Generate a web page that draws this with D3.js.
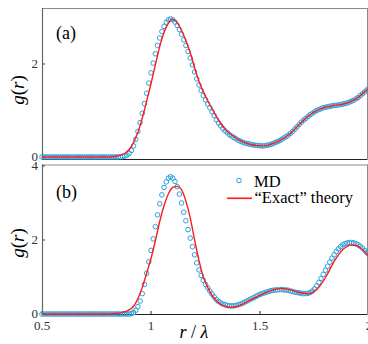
<!DOCTYPE html>
<html>
<head>
<meta charset="utf-8">
<script src="https://cdn.jsdelivr.net/npm/d3@7"></script>
<style>
  body { margin: 0; background: #fff; }
  svg { display: block; }
</style>
</head>
<body>
<svg id="chart" width="368" height="344" font-family="'Liberation Serif', 'Times New Roman', 'DejaVu Serif', serif"></svg>
<script>
// sample grids (r / lambda)
const rMD = d3.range(151).map(i => +(0.5 + i * 0.01).toFixed(2))
const rTheory = d3.range(76).map(i => +(0.5 + i * 0.02).toFixed(2))

const xTicks = [0.5, 1, 1.5, 2]
const xTickLabels = ['0.5', '1', '1.5', '2']
const yTicksA = [0, 2]
const yTicksB = [0, 2, 4]

// panel (a): MD, step 0.01
const mdA = [
  0, 0, 0, 0, 0, 0, 0, 0, 0, 0,
  0, 0, 0, 0, 0, 0, 0, 0, 0, 0,
  0, 0, 0, 0, 0, 0, 0, 0, 0, 0,
  0, 0, 0, 0, 0, 0,
  0.005, 0.01, 0.02, 0.04, 0.08, 0.14, 0.24, 0.38, 0.55, 0.74,
  0.94, 1.15, 1.37, 1.59, 1.81, 2.02, 2.22, 2.40, 2.56, 2.70,
  2.81, 2.90, 2.95, 2.97, 2.95, 2.90, 2.83, 2.74, 2.64, 2.52,
  2.40, 2.27, 2.13, 1.98, 1.83, 1.68, 1.55, 1.43, 1.32, 1.23,
  1.14, 1.06, 0.97, 0.89, 0.80, 0.73, 0.67, 0.61, 0.56, 0.52,
  0.48, 0.45, 0.42, 0.39, 0.36, 0.34, 0.32, 0.30, 0.29, 0.28,
  0.27, 0.26, 0.25, 0.25, 0.24, 0.24, 0.24, 0.25, 0.26, 0.27,
  0.29, 0.31, 0.33, 0.35, 0.38, 0.41, 0.44, 0.47, 0.51, 0.55,
  0.60, 0.65, 0.70, 0.75, 0.79, 0.83, 0.87, 0.91, 0.94, 0.97,
  1.00, 1.02, 1.04, 1.06, 1.07, 1.08, 1.09, 1.10, 1.11, 1.11,
  1.12, 1.13, 1.14, 1.15, 1.16, 1.18, 1.20, 1.22, 1.25, 1.28,
  1.32, 1.36, 1.40, 1.44, 1.48
]

// panel (a): "exact" theory, step 0.02
const theoryA = [
  0, 0, 0, 0, 0, 0, 0, 0, 0, 0, 0, 0, 0, 0, 0, 0,
  0.005, 0.015, 0.04, 0.08, 0.16, 0.31, 0.53, 0.84, 1.20, 1.58,
  1.98, 2.38, 2.68, 2.88, 2.96, 2.89, 2.72, 2.50, 2.24, 1.92,
  1.63, 1.40, 1.21, 1.04, 0.87, 0.72, 0.60, 0.51, 0.44, 0.38,
  0.33, 0.29, 0.27, 0.25, 0.24, 0.24, 0.26, 0.29, 0.33, 0.38,
  0.44, 0.51, 0.60, 0.70, 0.79, 0.87, 0.94, 1.00, 1.04, 1.07,
  1.09, 1.11, 1.12, 1.14, 1.16, 1.20, 1.25, 1.32, 1.40, 1.48
]

// panel (b): MD, step 0.01
const mdB = [
  0, 0, 0, 0, 0, 0, 0, 0, 0, 0,
  0, 0, 0, 0, 0, 0, 0, 0, 0, 0,
  0, 0, 0, 0, 0, 0, 0, 0, 0, 0,
  0, 0, 0, 0, 0, 0, 0, 0, 0, 0,
  0,
  0.01, 0.04, 0.10, 0.20, 0.35, 0.55, 0.80, 1.10, 1.41, 1.72,
  2.03, 2.36, 2.68, 2.98, 3.22, 3.42, 3.57, 3.67, 3.71, 3.67,
  3.58, 3.44, 3.24, 3.00, 2.75, 2.52, 2.28, 2.05, 1.82, 1.60,
  1.38, 1.19, 1.04, 0.91, 0.80, 0.71, 0.62, 0.54, 0.46, 0.39,
  0.34, 0.30, 0.27, 0.25, 0.23, 0.22, 0.22, 0.22, 0.23, 0.25,
  0.27, 0.29, 0.32, 0.35, 0.38, 0.41, 0.44, 0.47, 0.50, 0.53,
  0.55, 0.57, 0.59, 0.61, 0.63, 0.64, 0.65, 0.65, 0.66, 0.66,
  0.65, 0.65, 0.64, 0.62, 0.61, 0.59, 0.58, 0.57, 0.56, 0.55,
  0.55, 0.56, 0.58, 0.62, 0.68, 0.76, 0.85, 0.96, 1.07, 1.18,
  1.29, 1.40, 1.51, 1.60, 1.69, 1.76, 1.82, 1.87, 1.90, 1.92,
  1.93, 1.93, 1.92, 1.90, 1.87, 1.83, 1.78, 1.72, 1.66, 1.60
]

// panel (b): "exact" theory, step 0.02
const theoryB = [
  0, 0, 0, 0, 0, 0, 0, 0, 0, 0, 0, 0, 0, 0, 0, 0,
  0.005, 0.015, 0.03, 0.06, 0.11, 0.21, 0.42, 0.72, 1.10, 1.50,
  1.98, 2.50, 2.93, 3.25, 3.42, 3.45, 3.36, 3.05, 2.60, 2.00,
  1.45, 1.00, 0.72, 0.50, 0.36, 0.26, 0.21, 0.18, 0.19, 0.22,
  0.27, 0.33, 0.39, 0.45, 0.51, 0.56, 0.61, 0.65, 0.68, 0.69,
  0.68, 0.65, 0.61, 0.58, 0.56, 0.55, 0.58, 0.66, 0.80, 0.98,
  1.20, 1.42, 1.60, 1.74, 1.83, 1.86, 1.85, 1.79, 1.68, 1.55
]

const mdColor = '#2ba0dc'
const theoryColor = '#ff1a1a'

const svg = d3.select('#chart')
const left = 42
const right = 367.5

const x = d3.scaleLinear().domain([0.5, 2]).range([left, 369])

const drawPanel = (opt) => {
  const y = d3.scaleLinear().domain(opt.yDomain).range([opt.bottom, opt.top])
  const g = svg.append('g')

  // frame
  g.append('line').attr('x1', left).attr('x2', right).attr('y1', opt.top + 0.5).attr('y2', opt.top + 0.5)
    .attr('stroke', '#8a8a8a').attr('stroke-width', 1)
  g.append('line').attr('x1', right).attr('x2', right).attr('y1', opt.top).attr('y2', opt.bottom)
    .attr('stroke', '#8a8a8a').attr('stroke-width', 1)
  g.append('line').attr('x1', left + 0.5).attr('x2', left + 0.5).attr('y1', opt.top).attr('y2', opt.bottom)
    .attr('stroke', '#666').attr('stroke-width', 1.2)
  g.append('line').attr('x1', left).attr('x2', right).attr('y1', opt.bottom + 0.5).attr('y2', opt.bottom + 0.5)
    .attr('stroke', '#222').attr('stroke-width', 1.2)

  // y ticks (inside) and labels
  opt.yTicks.forEach(t => {
    g.append('line').attr('x1', left).attr('x2', left + 3).attr('y1', y(t)).attr('y2', y(t))
      .attr('stroke', '#444')
    g.append('text').attr('x', 38).attr('y', y(t) + 4).attr('text-anchor', 'end')
      .attr('font-size', 13).attr('fill', '#333').text(t)
  })

  if (opt.xAxis) {
    xTicks.forEach((t, i) => {
      g.append('line').attr('x1', x(t)).attr('x2', x(t)).attr('y1', opt.bottom).attr('y2', opt.bottom - 3)
        .attr('stroke', '#222')
      g.append('text').attr('x', x(t)).attr('y', opt.bottom + 16).attr('text-anchor', 'middle')
        .attr('font-size', 13).attr('fill', '#333').text(xTickLabels[i])
    })
  }

  // MD circles
  g.append('g').selectAll('circle')
    .data(opt.md)
    .enter()
    .append('circle')
    .attr('cx', (d, i) => x(rMD[i]))
    .attr('cy', d => y(d))
    .attr('r', 2.3)
    .attr('fill', 'none')
    .attr('stroke', mdColor)
    .attr('stroke-width', 1)

  // theory line
  const line = d3.line()
    .x((d, i) => x(rTheory[i]))
    .y(d => y(d))
    .curve(d3.curveMonotoneX)
  g.append('path').datum(opt.theory)
    .attr('d', line)
    .attr('fill', 'none')
    .attr('stroke', theoryColor)
    .attr('stroke-width', 1.4)

  // panel label
  g.append('text').attr('x', 56).attr('y', opt.labelY).attr('font-size', 18).text(opt.label)

  // y label g(r)
  const yl = g.append('text')
    .attr('transform', `translate(24, ${opt.ylabelY}) rotate(-90)`)
    .attr('text-anchor', 'middle')
    .attr('font-size', 19)
  yl.append('tspan').attr('font-style', 'italic').text('g')
  yl.append('tspan').text('(')
  yl.append('tspan').attr('font-style', 'italic').text('r')
  yl.append('tspan').text(')')
}

drawPanel({ top: 8, bottom: 159, yDomain: [-0.043, 3.204], yTicks: yTicksA,
  md: mdA, theory: theoryA, label: '(a)', labelY: 39, ylabelY: 90, xAxis: false })
drawPanel({ top: 164.5, bottom: 314, yDomain: [0, 4.04], yTicks: yTicksB,
  md: mdB, theory: theoryB, label: '(b)', labelY: 198, ylabelY: 243, xAxis: true })

// x label r/λ
const xl = svg.append('text').attr('x', 194).attr('y', 338).attr('text-anchor', 'middle')
  .attr('font-size', 18)
xl.append('tspan').attr('font-style', 'italic').text('r')
xl.append('tspan').text(' / ')
xl.append('tspan').attr('font-style', 'italic').text('λ')

// legend
const leg = svg.append('g')
leg.append('circle').attr('cx', 239).attr('cy', 180.5).attr('r', 2.3)
  .attr('fill', 'none').attr('stroke', mdColor).attr('stroke-width', 1)
leg.append('text').attr('x', 254).attr('y', 186.5).attr('font-size', 16.5).text('MD')
leg.append('line').attr('x1', 227).attr('x2', 252).attr('y1', 198.3).attr('y2', 198.3)
  .attr('stroke', theoryColor).attr('stroke-width', 1.6)
leg.append('text').attr('x', 254.5).attr('y', 203).attr('font-size', 16.5).text('“Exact” theory')
</script>
</body>
</html>
